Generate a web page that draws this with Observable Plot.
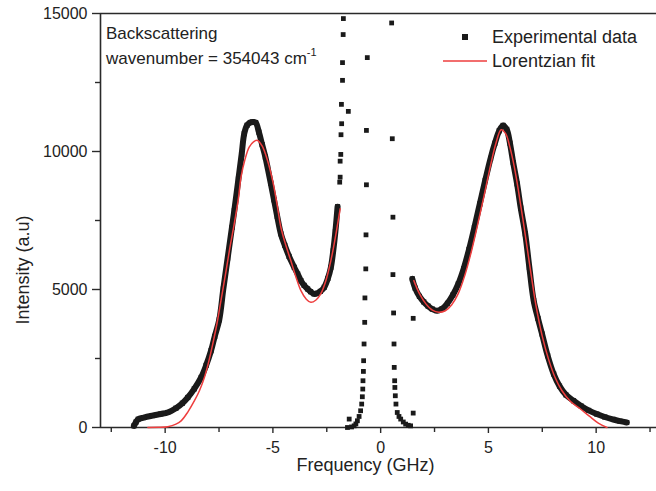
<!DOCTYPE html>
<html>
<head>
<meta charset="utf-8">
<script src="https://cdn.jsdelivr.net/npm/d3@7"></script>
<script src="https://cdn.jsdelivr.net/npm/@observablehq/plot@0.6"></script>
<style>
  html, body { margin: 0; padding: 0; background: #fff; }
  #chart { position: relative; width: 656px; height: 491px; }
  svg { display: block; }
</style>
</head>
<body>
<div id="chart"></div>
<script>
// ---- tick values & labels ----
const xMajorTicks = [-10, -5, 0, 5, 10];
const xMajorLabels = ["-10", "-5", "0", "5", "10"];
const xMinorTicks = [-12.5, -7.5, -2.5, 2.5, 7.5, 12.5];
const yMajorTicks = [0, 5000, 10000, 15000];
const yMajorLabels = ["0", "5000", "10000", "15000"];
const yMinorTicks = [2500, 7500, 12500];

const xTitle = "Frequency (GHz)";
const yTitle = "Intensity (a.u)";
const seriesNames = ["Experimental data", "Lorentzian fit"];
const noteLine1 = "Backscattering";
const noteLine2 = "wavenumber = 354043 cm";
const noteSup = "-1";

// ---- experimental data: left Brillouin peak (dense band) ----
const expLeftX = [-11.45, -11.35, -11.25, -11.0, -10.6, -10.2, -9.88, -9.5, -9.2, -8.95, -8.65, -8.33, -8.1, -7.87, -7.7, -7.49, -7.3, -7.1, -6.9, -6.79, -6.6, -6.45, -6.33, -6.2, -6.05, -5.94, -5.8, -5.65, -5.5, -5.35, -5.25, -5.1, -4.95, -4.8, -4.63, -4.45, -4.25, -4.01, -3.85, -3.7, -3.55, -3.39, -3.25, -3.09, -2.95, -2.8, -2.62, -2.45, -2.31, -2.2, -2.1, -2.0];
const expLeftY = [60, 200, 300, 360, 430, 490, 544, 700, 880, 1088, 1400, 1814, 2250, 2783, 3300, 3900, 5020, 6140, 7250, 7862, 9000, 9900, 10645, 10950, 11050, 11070, 11050, 10700, 10250, 9800, 9433, 8850, 8250, 7650, 7016, 6600, 6200, 5805, 5560, 5320, 5150, 5020, 4920, 4840, 4860, 4930, 5080, 5400, 5805, 6400, 7100, 8000];

// ---- experimental data: right Brillouin peak (dense band) ----
const expRightX = [1.47, 1.6, 1.8, 2.0, 2.2, 2.4, 2.62, 2.85, 3.1, 3.35, 3.6, 3.85, 4.1, 4.35, 4.6, 4.85, 5.1, 5.3, 5.5, 5.68, 5.85, 6.0, 6.15, 6.33, 6.5, 6.71, 6.9, 7.1, 7.3, 7.49, 7.75, 8.03, 8.3, 8.6, 8.95, 9.3, 9.65, 10.03, 10.4, 10.8, 11.1, 11.42];
const expRightY = [5384, 5050, 4750, 4550, 4400, 4290, 4234, 4300, 4500, 4800, 5200, 5750, 6450, 7250, 8100, 8950, 9750, 10300, 10750, 10946, 10800, 10300, 9600, 8830, 7950, 7017, 5800, 4597, 3950, 3388, 2600, 1937, 1500, 1180, 969, 780, 620, 486, 380, 290, 230, 181];

// ---- experimental data: sparse points of the central (elastic) peak ----
const elasticX = [-1.73, -1.74, -1.77, -1.77, -1.82, -1.50, -1.81, -1.84, -1.85, -1.88, -1.88, -1.90,
  -0.62, -0.66, -0.66, -0.68, -0.69, -0.73, -0.74, -0.77, -0.79, -0.80, -0.82, -0.83, -0.85, -0.88, -0.93, -1.0, -1.08, -1.15, -1.23, -1.35, -1.46, -1.54,
  0.51, 0.54, 0.57, 0.57, 0.60, 0.62, 0.63, 0.65, 0.66, 0.68, 0.71, 0.77, 0.85, 0.93, 1.05, 1.16, 1.28, 1.39, 1.51, 1.51];
const elasticY = [14816, 14237, 13220, 12578, 11708, 11454, 11007, 10608, 9894, 9650, 9070, 8889,
  13402, 10764, 8794, 6980, 5747, 4695, 3810, 3026, 2420, 2032, 1694, 1393, 1114, 849, 606, 400, 243, 130, 60, 20, 305, 0,
  14657, 10463, 7620, 5540, 4150, 3026, 2177, 1694, 1451, 1150, 849, 544, 400, 305, 200, 123, 80, 60, 3955, 522];

// ---- Lorentzian fit curves ----
const fitLeftX = [-10.8, -10.3, -9.88, -9.5, -9.26, -8.95, -8.64, -8.4, -8.18, -7.98, -7.79, -7.6, -7.41, -7.2, -7.0, -6.8, -6.6, -6.48, -6.3, -6.1, -5.9, -5.71, -5.5, -5.25, -5.0, -4.8, -4.63, -4.4, -4.17, -3.95, -3.7, -3.45, -3.24, -3.0, -2.78, -2.55, -2.31, -2.1, -1.88];
const fitLeftY = [0, 5, 30, 120, 240, 560, 970, 1350, 1810, 2380, 3030, 3750, 4600, 5550, 6500, 7350, 8300, 9070, 9700, 10158, 10350, 10401, 10200, 9676, 8900, 8050, 7256, 6600, 6048, 5500, 4960, 4650, 4535, 4620, 4840, 5300, 6048, 6900, 7923];
const fitRightX = [1.54, 1.8, 2.1, 2.4, 2.7, 3.0, 3.3, 3.6, 3.9, 4.2, 4.5, 4.8, 5.1, 5.35, 5.59, 5.8, 6.0, 6.2, 6.4, 6.6, 6.8, 7.0, 7.2, 7.5, 7.8, 8.1, 8.4, 8.8, 9.26, 9.7, 10.1, 10.5];
const fitRightY = [5322, 4850, 4480, 4250, 4173, 4230, 4450, 4850, 5500, 6350, 7350, 8400, 9500, 10300, 10790, 10650, 10150, 9450, 8550, 7550, 6500, 5450, 4450, 3300, 2450, 1800, 1350, 950, 680, 400, 160, 0];

const zip = (xs, ys) => xs.map((x, i) => ({x, y: ys[i]}));
const expLeft = zip(expLeftX, expLeftY);
const expRight = zip(expRightX, expRightY);
const elastic = zip(elasticX, elasticY);
const fitLeft = zip(fitLeftX, fitLeftY);
const fitRight = zip(fitRightX, fitRightY);

const INK = "#1a1a1a";
const AXIS = "#2a2a2a";
const RED = "#ee3e3e";
const FONT = "'Liberation Sans', Arial, Helvetica, sans-serif";

const xLab = new Map(xMajorTicks.map((t, i) => [t, xMajorLabels[i]]));
const yLab = new Map(yMajorTicks.map((t, i) => [t, yMajorLabels[i]]));

const chart = Plot.plot({
  width: 656,
  height: 491,
  marginLeft: 100,
  marginRight: 0,
  marginTop: 13,
  marginBottom: 64,
  x: {domain: [-13, 12.8]},
  y: {domain: [0, 15000]},
  style: {fontFamily: FONT, fontSize: "16px", color: "#222", background: "#fff"},
  marks: [
    // frame lines
    Plot.ruleY([15000], {stroke: AXIS, strokeWidth: 1.6}),
    Plot.ruleY([0], {stroke: AXIS, strokeWidth: 1.6}),
    Plot.ruleX([-13], {stroke: AXIS, strokeWidth: 1.6}),
    // axes
    Plot.axisX(xMajorTicks, {tickSize: 6, tickPadding: 8, tickFormat: d => xLab.get(d), label: null, stroke: AXIS, strokeWidth: 1.4, fontSize: 16, fill: "#222"}),
    Plot.axisX(xMinorTicks, {tickSize: 5, text: null, label: null, stroke: AXIS, strokeWidth: 1.4}),
    Plot.axisY(yMajorTicks, {tickSize: 8, tickPadding: 5, tickFormat: d => yLab.get(d), label: null, stroke: AXIS, strokeWidth: 1.4, fontSize: 16, fill: "#222"}),
    Plot.axisY(yMinorTicks, {tickSize: 5, text: null, label: null, stroke: AXIS, strokeWidth: 1.4}),
    // x axis title
    Plot.text([xTitle], {frameAnchor: "bottom", dx: -13, dy: 43, fontSize: 18, fill: "#222"}),
    // experimental data
    Plot.line(expLeft, {x: "x", y: "y", stroke: INK, strokeWidth: 6, curve: "catmull-rom"}),
    Plot.line(expRight, {x: "x", y: "y", stroke: INK, strokeWidth: 6, curve: "catmull-rom"}),
    Plot.dot(expLeft, {x: "x", y: "y", symbol: "square", r: 2.9, fill: INK, stroke: null}),
    Plot.dot(expRight, {x: "x", y: "y", symbol: "square", r: 2.9, fill: INK, stroke: null}),
    Plot.dot(elastic, {x: "x", y: "y", symbol: "square", r: 2.7, fill: INK, stroke: null}),
    // fit
    Plot.line(fitLeft, {x: "x", y: "y", stroke: RED, strokeWidth: 1.5, curve: "catmull-rom"}),
    Plot.line(fitRight, {x: "x", y: "y", stroke: RED, strokeWidth: 1.5, curve: "catmull-rom"})
  ]
});

document.getElementById("chart").appendChild(chart);

// annotations, y title and legend
const svg = d3.select(chart);
const g = svg.append("g").attr("font-family", FONT).attr("fill", "#222").attr("text-anchor", "start");
g.append("text").attr("transform", "translate(23,270) rotate(-90)").attr("text-anchor", "middle")
  .attr("dy", "0.35em").attr("font-size", 18).text(yTitle);
g.append("text").attr("x", 106).attr("y", 33).attr("dy", "0.35em").attr("font-size", 17).text(noteLine1);
const t2 = g.append("text").attr("x", 106).attr("y", 58).attr("dy", "0.35em").attr("font-size", 17);
t2.append("tspan").text(noteLine2);
t2.append("tspan").attr("font-size", 11).attr("dy", "-0.7em").text(noteSup);

// legend
g.append("rect").attr("x", 462).attr("y", 34).attr("width", 6).attr("height", 6).attr("fill", INK);
g.append("text").attr("x", 492).attr("y", 37).attr("dy", "0.35em").attr("font-size", 18).text(seriesNames[0]);
g.append("line").attr("x1", 443).attr("x2", 487).attr("y1", 61).attr("y2", 61).attr("stroke", RED).attr("stroke-width", 1.6);
g.append("text").attr("x", 492).attr("y", 61).attr("dy", "0.35em").attr("font-size", 18).text(seriesNames[1]);
</script>
</body>
</html>
